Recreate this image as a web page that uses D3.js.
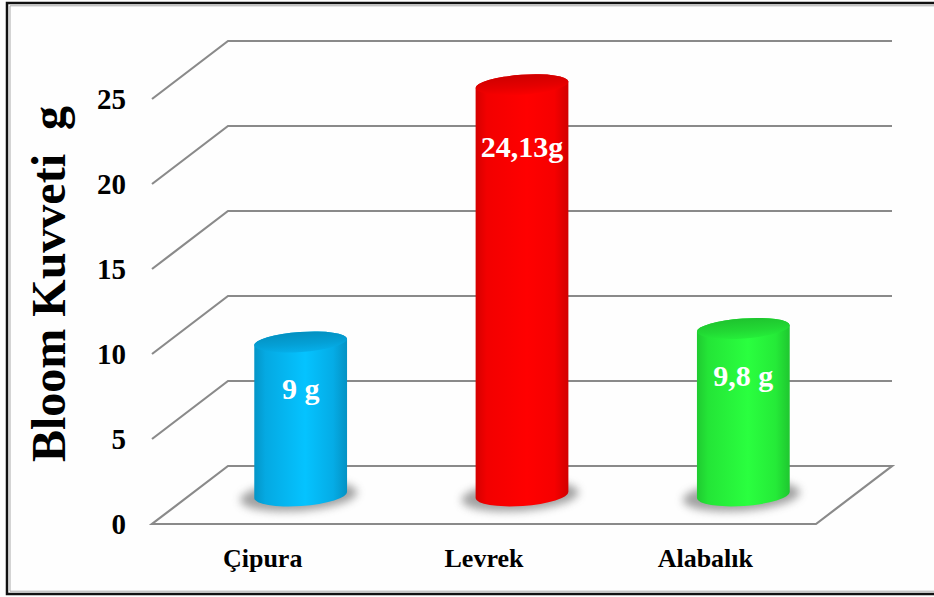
<!DOCTYPE html>
<html>
<head>
<meta charset="utf-8">
<script src="https://cdn.jsdelivr.net/npm/d3@7"></script>
<style>
  html, body { margin: 0; padding: 0; background: #fefefe; }
  svg { display: block; }
  text { font-family: "Liberation Serif", "Times New Roman", serif; font-weight: bold; }
</style>
</head>
<body>
<div id="chart"></div>
<script>
const categories = ["Çipura", "Levrek", "Alabalık"];
const values = [9, 24.13, 9.8];
const valueLabels = ["9 g", "24,13g", "9,8 g"];
const barColors = ["#05b2ee", "#ff0000", "#26f23a"];
const yTicks = [0, 5, 10, 15, 20, 25];
const yTitle = "Bloom Kuvveti  g";

const W = 934, H = 597;
const svg = d3.select("#chart").append("svg").attr("width", W).attr("height", H);
svg.append("rect").attr("width", W).attr("height", H).attr("fill", "#fefefe");

// frame
svg.append("path").attr("d", `M934,3 L7,3 L7,594 L934,594`).attr("fill", "none").attr("stroke", "#111").attr("stroke-width", 2.5);
svg.append("path").attr("d", `M934,5.8 L10,5.8 L10,591.2 L934,591.2`).attr("fill", "none").attr("stroke", "#aaa").attr("stroke-width", 1);

const x = d3.scaleBand().domain(categories).range([152, 816]).paddingInner(0).paddingOuter(0);
const y = d3.scaleLinear().domain([0, 25]).range([524, 99]);
const depthX = 76, depthY = -58;

const defs = svg.append("defs");
const grid = svg.append("g").attr("stroke", "#8a8a8a").attr("stroke-width", 2.2).attr("fill", "none");

// floor
grid.append("path").attr("d",
  `M${x.range()[0]},${y(0)} L${x.range()[1]},${y(0)} L${x.range()[1] + depthX},${y(0) + depthY} L${x.range()[0] + depthX},${y(0) + depthY} Z`)
  .attr("fill", "#fefefe").attr("stroke-linejoin", "miter");
yTicks.filter(t => t > 0).forEach(t => {
  grid.append("path").attr("d",
    `M${x.range()[0]},${y(t)} L${x.range()[0] + depthX},${y(t) + depthY} L${x.range()[1] + depthX},${y(t) + depthY}`);
});

// tick labels
svg.append("g").selectAll("text").data(yTicks).join("text")
  .attr("x", 126).attr("y", d => y(d)).attr("dy", "0.35em")
  .attr("text-anchor", "end").attr("font-size", 29).attr("fill", "#000")
  .text(d => d);

// y title
svg.append("text")
  .attr("transform", `translate(65,284) rotate(-90)`)
  .attr("text-anchor", "middle").attr("font-size", 48).attr("fill", "#000")
  .style("white-space", "pre")
  .text(yTitle);

// category labels
svg.append("g").selectAll("text").data(categories).join("text")
  .attr("x", d => x(d) + x.bandwidth() / 2).attr("y", 567)
  .attr("text-anchor", "middle").attr("font-size", 26).attr("fill", "#000")
  .text(d => d);

// shadow filter
const f = defs.append("filter").attr("id", "blur").attr("x", "-50%").attr("y", "-100%").attr("width", "200%").attr("height", "300%");
f.append("feGaussianBlur").attr("stdDeviation", 4);

const rx = 46.5, ryTop = 10, ryBot = 11, rot = -4;
const rad = rot * Math.PI / 180;
function pt(cx, cy, t) {
  return [cx + rx * Math.cos(t) * Math.cos(rad), cy + rx * Math.cos(t) * Math.sin(rad)];
}

categories.forEach((c, i) => {
  const col = d3.color(barColors[i]);
  const cx = x(c) + x.bandwidth() / 2 + depthX / 2;
  const yb = y(0) + depthY / 2;
  const yt = y(values[i]) + depthY / 2;

  const gid = "body" + i;
  const lg = defs.append("linearGradient").attr("id", gid).attr("x1", 0).attr("x2", 1).attr("y1", 0).attr("y2", 0);
  [[0, col.darker(0.5)], [0.12, col.darker(0.15)], [0.55, col.brighter(0.25)], [0.85, col.darker(0.1)], [1, col.darker(0.55)]]
    .forEach(([o, cc]) => lg.append("stop").attr("offset", o).attr("stop-color", cc));
  const tid = "top" + i;
  const tg = defs.append("linearGradient").attr("id", tid).attr("x1", 0).attr("x2", 0).attr("y1", 0).attr("y2", 1);
  [[0, col.darker(0.6)], [0.6, col.darker(0.3)], [1, col.darker(0.05)]]
    .forEach(([o, cc]) => tg.append("stop").attr("offset", o).attr("stop-color", cc));

  // shadow
  svg.append("ellipse").attr("cx", cx - 2).attr("cy", yb + 1).attr("rx", rx + 12).attr("ry", ryBot + 4)
    .attr("transform", `rotate(${rot},${cx},${yb})`)
    .attr("fill", "#555").attr("opacity", 0.55).attr("filter", "url(#blur)");

  const lt = pt(cx, yt, Math.PI), rt = pt(cx, yt, 0);
  const lb = pt(cx, yb, Math.PI), rb = pt(cx, yb, 0);
  svg.append("path")
    .attr("d", `M${lt[0]},${lt[1]} L${lb[0]},${lb[1]} A${rx},${ryBot} ${rot} 0 0 ${rb[0]},${rb[1]} L${rt[0]},${rt[1]} A${rx},${ryTop} ${rot} 0 0 ${lt[0]},${lt[1]} Z`)
    .attr("fill", `url(#${gid})`);
  svg.append("ellipse").attr("cx", cx).attr("cy", yt).attr("rx", rx).attr("ry", ryTop)
    .attr("transform", `rotate(${rot},${cx},${yt})`)
    .attr("fill", `url(#${tid})`);

  svg.append("text").attr("x", cx).attr("y", yt + 48 + values[i] * 1.0)
    .attr("text-anchor", "middle").attr("font-size", 30).attr("fill", "#fff")
    .text(valueLabels[i]);
});
</script>
</body>
</html>
